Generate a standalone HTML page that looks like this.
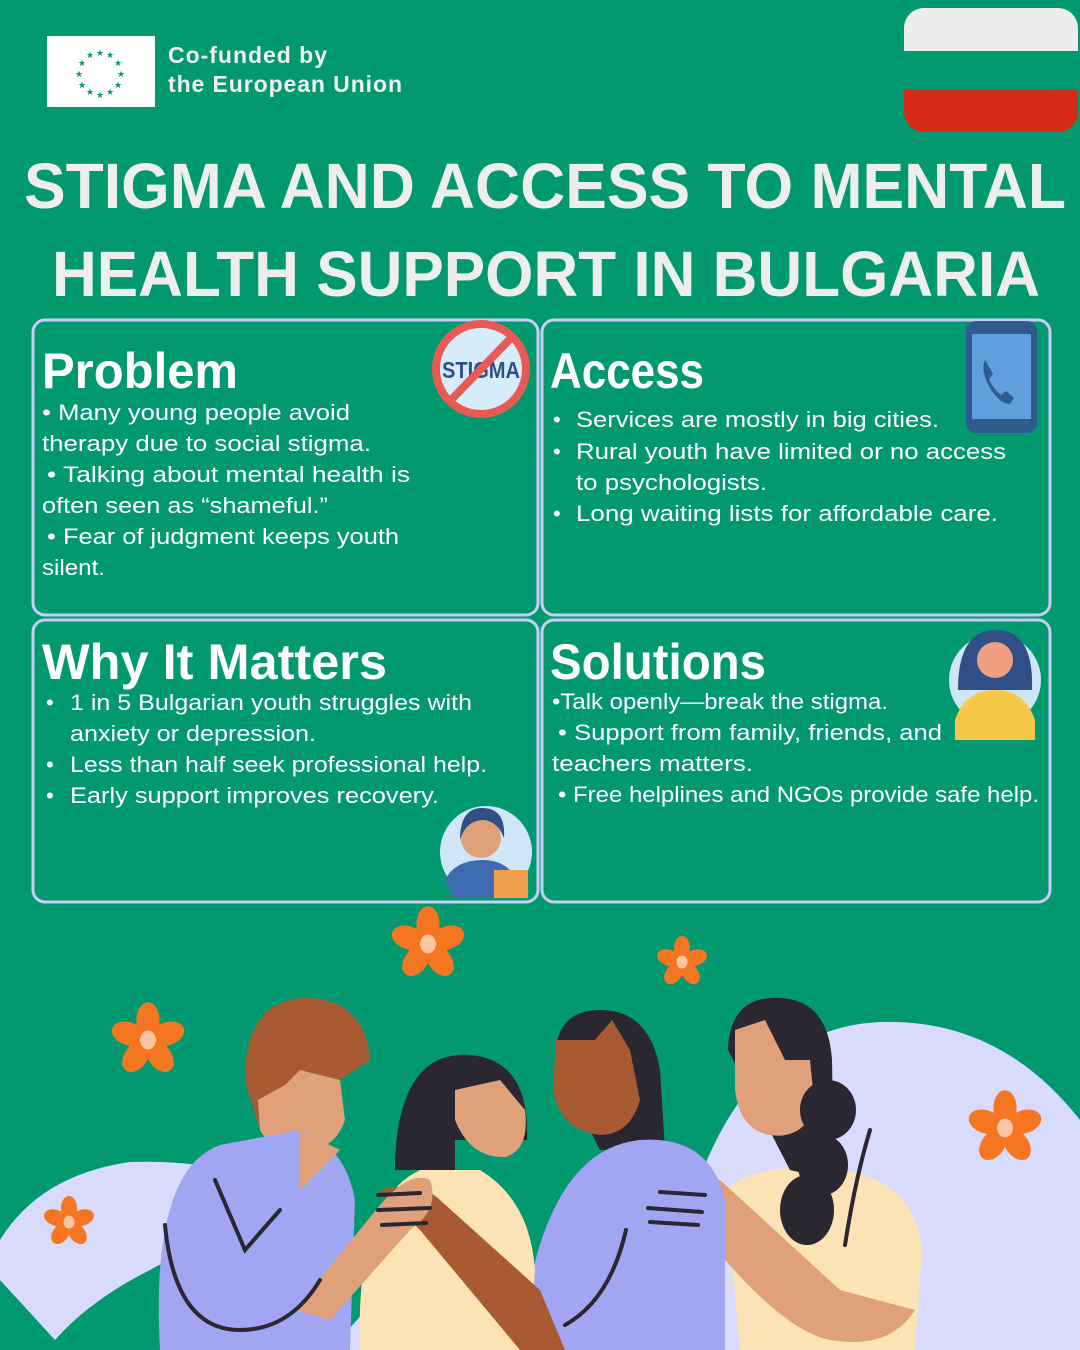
<!DOCTYPE html>
<html><head><meta charset="utf-8"><style>
html,body{margin:0;padding:0;background:#029870;}
svg{display:block}
text{font-family:"Liberation Sans",sans-serif;}
</style></head><body>
<svg width="1080" height="1350" viewBox="0 0 1080 1350" xmlns="http://www.w3.org/2000/svg">
<rect width="1080" height="1350" fill="#029870"/>
<defs>
<g id="fl">
<ellipse cx="0" cy="-14" rx="8" ry="12" fill="#f47621"/>
<ellipse cx="0" cy="-14" rx="8" ry="12" fill="#f47621" transform="rotate(72)"/>
<ellipse cx="0" cy="-14" rx="8" ry="12" fill="#f47621" transform="rotate(144)"/>
<ellipse cx="0" cy="-14" rx="8" ry="12" fill="#f47621" transform="rotate(216)"/>
<ellipse cx="0" cy="-14" rx="8" ry="12" fill="#f47621" transform="rotate(288)"/>
<ellipse cx="0" cy="0" rx="5.5" ry="6.5" fill="#fcc4a0"/>
</g>
</defs>
<!-- EU logo -->
<rect x="47" y="36" width="108" height="71" fill="#fff"/>
<g fill="#029870" font-size="9">
<text x="96" y="56">★</text><text x="86" y="58">★</text><text x="106" y="58">★</text>
<text x="78" y="66">★</text><text x="114" y="66">★</text>
<text x="75" y="77">★</text><text x="117" y="77">★</text>
<text x="78" y="88">★</text><text x="114" y="88">★</text>
<text x="86" y="95">★</text><text x="106" y="95">★</text><text x="96" y="98">★</text>
</g>
<text x="168" y="63" font-size="23" font-weight="bold" fill="#f0f0f0" textLength="159">Co-funded by</text>
<text x="168" y="92" font-size="23" font-weight="bold" fill="#f0f0f0" textLength="234">the European Union</text>
<!-- Flag -->
<clipPath id="fc"><rect x="904" y="8" width="174" height="124" rx="20"/></clipPath>
<g clip-path="url(#fc)">
<rect x="904" y="8" width="174" height="43" fill="#eeeeee"/>
<rect x="904" y="51" width="174" height="39" fill="#029870"/>
<rect x="904" y="90" width="174" height="42" fill="#d42a16"/>
</g>
<!-- Title -->
<text x="24" y="208" font-size="64" font-weight="bold" fill="#eeeeee" textLength="1042" lengthAdjust="spacingAndGlyphs">STIGMA AND ACCESS TO MENTAL</text>
<text x="52" y="296" font-size="64" font-weight="bold" fill="#eeeeee" textLength="988" lengthAdjust="spacingAndGlyphs">HEALTH SUPPORT IN BULGARIA</text>
<!-- Cards -->
<g fill="none" stroke="#c9cdf6" stroke-width="3">
<rect x="33" y="320" width="505" height="295" rx="12"/>
<rect x="542" y="320" width="508" height="295" rx="12"/>
<rect x="33" y="620" width="505" height="282" rx="12"/>
<rect x="542" y="620" width="508" height="282" rx="12"/>
</g>
<g fill="#fff">
<text x="42" y="388" font-size="50" font-weight="bold" textLength="196" lengthAdjust="spacingAndGlyphs">Problem</text>
<text x="550" y="388" font-size="50" font-weight="bold" textLength="154" lengthAdjust="spacingAndGlyphs">Access</text>
<text x="42" y="679" font-size="50" font-weight="bold" textLength="345" lengthAdjust="spacingAndGlyphs">Why It Matters</text>
<text x="550" y="679" font-size="50" font-weight="bold" textLength="216" lengthAdjust="spacingAndGlyphs">Solutions</text>
</g>
<g fill="#fff" font-size="22">
<text x="42" y="420" textLength="308" lengthAdjust="spacingAndGlyphs">• Many young people avoid</text>
<text x="42" y="451" textLength="329" lengthAdjust="spacingAndGlyphs">therapy due to social stigma.</text>
<text x="47" y="482" textLength="363" lengthAdjust="spacingAndGlyphs">• Talking about mental health is</text>
<text x="42" y="513" textLength="286" lengthAdjust="spacingAndGlyphs">often seen as “shameful.”</text>
<text x="47" y="544" textLength="352" lengthAdjust="spacingAndGlyphs">• Fear of judgment keeps youth</text>
<text x="42" y="575" textLength="63" lengthAdjust="spacingAndGlyphs">silent.</text>

<text x="553" y="427">•</text><text x="576" y="427" textLength="363" lengthAdjust="spacingAndGlyphs">Services are mostly in big cities.</text>
<text x="553" y="459">•</text><text x="576" y="459" textLength="430" lengthAdjust="spacingAndGlyphs">Rural youth have limited or no access</text>
<text x="576" y="490" textLength="191" lengthAdjust="spacingAndGlyphs">to psychologists.</text>
<text x="553" y="521">•</text><text x="576" y="521" textLength="422" lengthAdjust="spacingAndGlyphs">Long waiting lists for affordable care.</text>

<text x="46" y="710">•</text><text x="70" y="710" textLength="402" lengthAdjust="spacingAndGlyphs">1 in 5 Bulgarian youth struggles with</text>
<text x="70" y="741" textLength="246" lengthAdjust="spacingAndGlyphs">anxiety or depression.</text>
<text x="46" y="772">•</text><text x="70" y="772" textLength="417" lengthAdjust="spacingAndGlyphs">Less than half seek professional help.</text>
<text x="46" y="803">•</text><text x="70" y="803" textLength="369" lengthAdjust="spacingAndGlyphs">Early support improves recovery.</text>

<text x="552" y="709" textLength="336" lengthAdjust="spacingAndGlyphs">•Talk openly—break the stigma.</text>
<text x="558" y="740" textLength="384" lengthAdjust="spacingAndGlyphs">• Support from family, friends, and</text>
<text x="552" y="771" textLength="201" lengthAdjust="spacingAndGlyphs">teachers matters.</text>
<text x="558" y="802" textLength="481" lengthAdjust="spacingAndGlyphs">• Free helplines and NGOs provide safe help.</text>
</g>
<!-- stigma icon -->
<circle cx="481" cy="369" r="45" fill="#d6ecfb" stroke="#e85b54" stroke-width="8"/>
<text x="481" y="378" font-size="23" font-weight="bold" fill="#2f4f86" text-anchor="middle" textLength="78" lengthAdjust="spacingAndGlyphs">STIGMA</text>
<line x1="451" y1="400" x2="511" y2="338" stroke="#e85b54" stroke-width="8"/>
<!-- phone -->
<rect x="966" y="321" width="71" height="112" rx="10" fill="#2f5b8f"/>
<rect x="972" y="334" width="59" height="85" fill="#5f9fdc"/>
<path d="M985 360 q-5 10 5 28 q10 16 20 16 l4 -6 l-8 -7 l-5 4 q-8 -6 -12 -16 l4 -5 l-5 -9z" fill="#2f5b8f"/>
<!-- avatars -->
<circle cx="486" cy="852" r="46" fill="#cfe6f7"/>
<circle cx="481" cy="838" r="20" fill="#dfa07a"/>
<path d="M460 840 q0 -32 22 -32 q24 0 22 30 q-6 -16 -20 -18 q-18 0 -24 20z" fill="#2f4f86"/>
<path d="M445 880 q10 -20 38 -20 q20 0 30 14 l0 24 l-60 0z" fill="#3d6ab0"/>
<rect x="494" y="870" width="34" height="28" fill="#f0a04a"/>
<circle cx="995" cy="680" r="46" fill="#cfe6f7"/>
<path d="M958 690 q0 -60 38 -60 q38 0 36 60 z" fill="#2f4f86"/>
<circle cx="995" cy="660" r="18" fill="#f0a080"/>
<path d="M955 720 q10 -30 40 -30 q30 0 40 30 l0 20 l-80 0z" fill="#f7c948"/>
<!-- illustration background blobs -->
<path d="M660 1350 Q700 1030 880 1022 Q1000 1018 1080 1120 L1080 1350 Z" fill="#d9dbfc"/>
<path d="M0 1240 Q40 1175 130 1162 Q200 1160 240 1175 L300 1250 Q200 1240 150 1270 Q90 1300 55 1340 L0 1280Z" fill="#d9dbfc"/>
<path d="M330 1350 L420 1250 L560 1300 L640 1350Z" fill="#d9dbfc"/>
<!-- Flowers -->
<use href="#fl" transform="translate(428,944) scale(1.45)"/>
<use href="#fl" transform="translate(682,962) scale(1.0)"/>
<use href="#fl" transform="translate(148,1040) scale(1.45)"/>
<use href="#fl" transform="translate(69,1222) scale(1.0)"/>
<use href="#fl" transform="translate(1005,1128) scale(1.45)"/>
<!-- Person 4 (right, cream) -->
<path d="M725 1190 Q760 1160 840 1170 Q915 1180 922 1250 L915 1350 L740 1350Z" fill="#fbe3b5"/>
<path d="M728 1050 Q730 995 780 998 Q828 1000 832 1060 L834 1180 L790 1170 Z" fill="#2b2730"/>
<path d="M735 1030 L765 1020 L785 1060 L810 1060 L815 1110 Q800 1140 770 1135 Q740 1130 735 1090Z" fill="#dfa07a"/>
<ellipse cx="828" cy="1110" rx="28" ry="30" fill="#2b2730"/>
<ellipse cx="823" cy="1165" rx="25" ry="30" fill="#2b2730"/>
<ellipse cx="807" cy="1210" rx="27" ry="35" fill="#2b2730"/>
<path d="M650 1190 Q680 1160 720 1180 L840 1290 L915 1310 Q890 1350 830 1340 Q780 1330 700 1230 L650 1215Z" fill="#dfa07a"/>
<!-- Person 3 (lavender, dark skin) -->
<path d="M555 1060 Q555 1010 600 1010 Q650 1010 660 1070 L665 1150 L600 1150Z" fill="#2b2730"/>
<path d="M556 1040 L595 1040 L612 1020 L630 1050 L640 1100 Q630 1135 600 1135 Q560 1130 553 1090 Z" fill="#a85a33"/>
<path d="M520 1350 Q540 1150 640 1140 Q710 1135 725 1200 L725 1350Z" fill="#a1a5f2"/>
<!-- Person 2 (cream, black hair) -->
<path d="M395 1160 Q400 1050 470 1055 Q530 1060 527 1140 L455 1140 L455 1170 L395 1170Z" fill="#2b2730"/>
<path d="M455 1090 L500 1080 L525 1110 Q530 1150 505 1157 Q470 1158 455 1120Z" fill="#dfa07a"/>
<path d="M360 1350 Q355 1200 420 1170 L480 1170 Q530 1200 535 1270 L530 1350Z" fill="#fbe3b5"/>
<!-- dark arm across -->
<path d="M380 1190 Q420 1180 440 1200 L540 1290 L565 1350 L520 1350 Q470 1290 420 1230 Z" fill="#a85a33"/>
<!-- Person 1 (lavender, brown hair) -->
<path d="M245 1080 Q245 1000 305 998 Q365 998 370 1060 L340 1080 L300 1070 L260 1130 Z" fill="#a85a33"/>
<path d="M258 1100 L285 1085 L300 1070 L340 1080 L345 1120 Q335 1150 305 1150 Q270 1150 260 1130Z" fill="#dfa07a"/>
<path d="M160 1350 Q150 1170 220 1145 L300 1130 Q345 1145 355 1200 L350 1350Z" fill="#a1a5f2"/>
<path d="M300 1130 L340 1150 L300 1190Z" fill="#dfa07a"/>
<path d="M295 1310 L380 1205 Q410 1170 430 1180 Q440 1210 410 1230 L330 1320Z" fill="#dfa07a"/>
<g stroke="#2b2730" stroke-width="4" fill="none" stroke-linecap="round">
<path d="M215 1180 L245 1250 L280 1210"/>
<path d="M165 1225 Q175 1330 240 1330 Q290 1330 320 1280"/>
<path d="M378 1195 L420 1193 M378 1210 L430 1208 M382 1225 L426 1223"/>
<path d="M660 1192 L705 1195 M648 1208 L702 1212 M650 1222 L698 1225"/>
<path d="M626 1230 Q610 1300 565 1325"/>
<path d="M870 1130 Q855 1180 845 1245"/>
</g>
</svg>
</body></html>
